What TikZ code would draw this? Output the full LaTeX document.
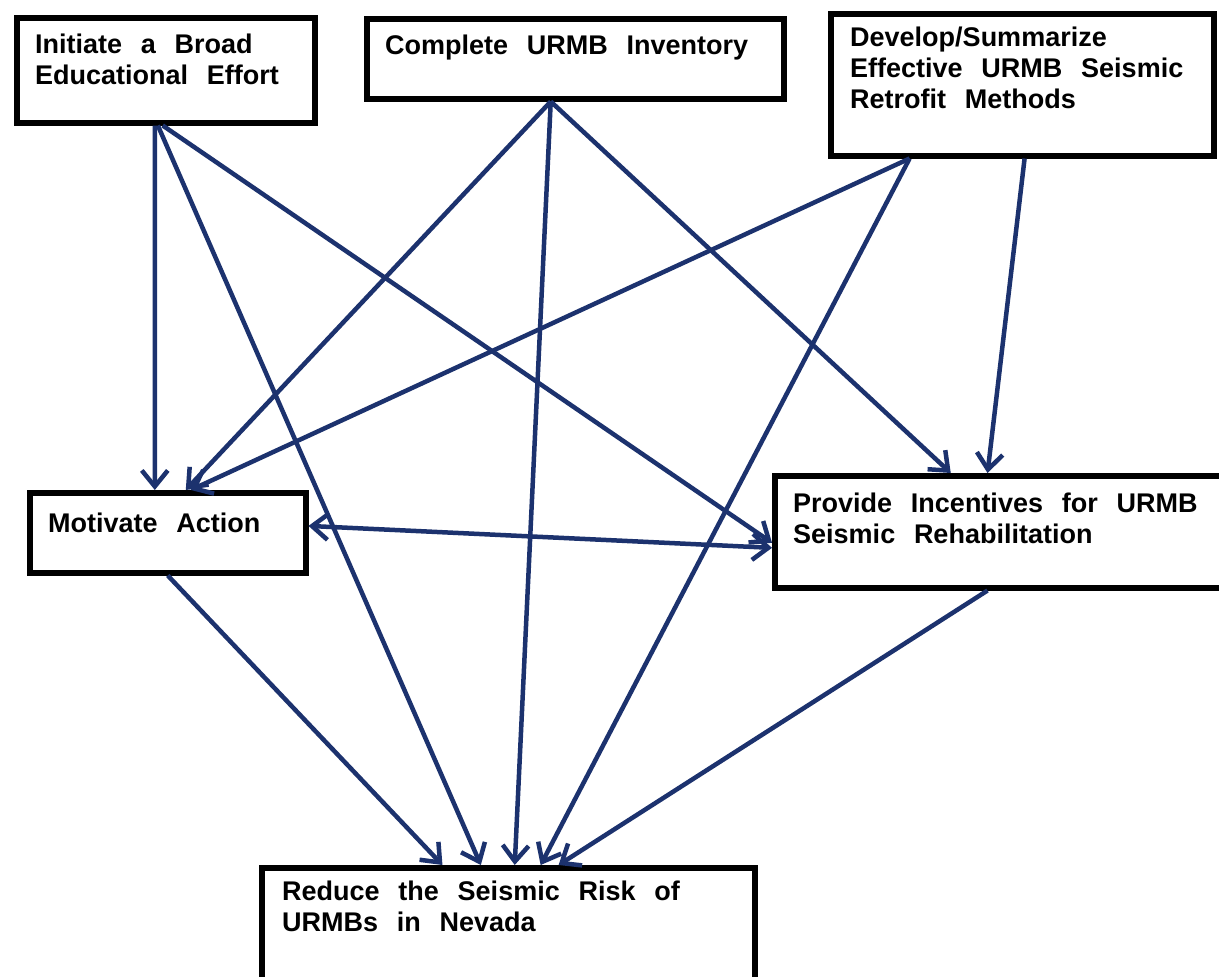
\documentclass[tikz,border=0pt]{standalone}
\usepackage{fontspec}
\setmainfont{Liberation Sans}[WordSpace=2.5]
\usetikzlibrary{arrows.meta,calc}
\definecolor{navy}{RGB}{28,50,110}
\begin{document}
\begin{tikzpicture}[x=1pt,y=-1pt,
  box/.style={draw=black, line width=5.5pt, rectangle, inner sep=0pt, anchor=north west},
  lbl/.style={anchor=north west, inner sep=0pt, align=left, text=black,
    font=\fontsize{27}{31}\selectfont\bfseries},
  tip/.style={},
  conn/.style={draw=navy, line width=4.5pt, -{Straight Barb[length=16pt,width=26pt]}},
  bconn/.style={draw=navy, line width=4.5pt, {Straight Barb[length=16pt,width=26pt]}-{Straight Barb[length=16pt,width=26pt]}},
]
\useasboundingbox (0,0) rectangle (1219,977);
\clip (0,0) rectangle (1219,977);
\fill[white] (0,0) rectangle (1219,977);

% boxes
\node[box, minimum width=298pt, minimum height=105pt] (b1) at (14,15) {};
\node[box, minimum width=417pt, minimum height=80pt] (b2) at (364,16) {};
\node[box, minimum width=383pt, minimum height=142pt] (b3) at (828,11) {};
\node[box, minimum width=276pt, minimum height=80pt] (b4) at (27,490) {};
\node[box, minimum width=460pt, minimum height=112pt] (b5) at (772,473) {};
\node[box, minimum width=493pt, minimum height=130pt] (b6) at (259,865) {};

% labels
\node[lbl] (t1) at (35,34) {Initiate a Broad\\Educational Effort};
\node[lbl] (t2) at (385,35) {Complete URMB Inventory};
\node[lbl] (t3) at (850,27) {Develop/Summarize\\Effective URMB Seismic\\Retrofit Methods};
\node[lbl] (t4) at (48,513) {Motivate Action};
\node[lbl] (t5) at (793,493) {Provide Incentives for URMB\\Seismic Rehabilitation};
\node[lbl] (t6) at (282,881) {Reduce the Seismic Risk of\\URMBs in Nevada};

% connectors from Initiate
\draw[conn] ($(b1.south west)!0.464!(b1.south east)$) -- ($(b4.north west)!0.454!(b4.north east)$);
\draw[conn] ($(b1.south west)!0.474!(b1.south east)$) -- ($(b6.north west)!0.445!(b6.north east)$);
\draw[conn] ($(b1.south west)!0.490!(b1.south east)$) -- ($(b5.north west)!0.594!(b5.south west)$);
% connectors from Complete
\draw[conn] ($(b2.south west)!0.442!(b2.south east)$) -- ($(b4.north west)!0.564!(b4.north east)$);
\draw[conn] ($(b2.south west)!0.442!(b2.south east)$) -- ($(b6.north west)!0.513!(b6.north east)$);
\draw[conn] ($(b2.south west)!0.442!(b2.south east)$) -- ($(b5.north west)!0.384!(b5.north east)$);
% connectors from Develop
\draw[conn] ($(b3.south west)!0.210!(b3.south east)$) -- ($(b4.north west)!0.582!(b4.north east)$);
\draw[conn] ($(b3.south west)!0.210!(b3.south east)$) -- ($(b6.north west)!0.565!(b6.north east)$);
\draw[conn] ($(b3.south west)!0.506!(b3.south east)$) -- ($(b5.north west)!0.463!(b5.north east)$);
% Motivate <-> Provide
\draw[bconn] ($(b4.north east)!0.42!(b4.south east)$) -- ($(b5.north west)!0.637!(b5.south west)$);
% to Reduce
\draw[conn] ($(b4.south west)!0.500!(b4.south east)$) -- ($(b6.north west)!0.368!(b6.north east)$);
\draw[conn] ($(b5.south west)!0.463!(b5.south east)$) -- ($(b6.north west)!0.601!(b6.north east)$);
\end{tikzpicture}
\end{document}
